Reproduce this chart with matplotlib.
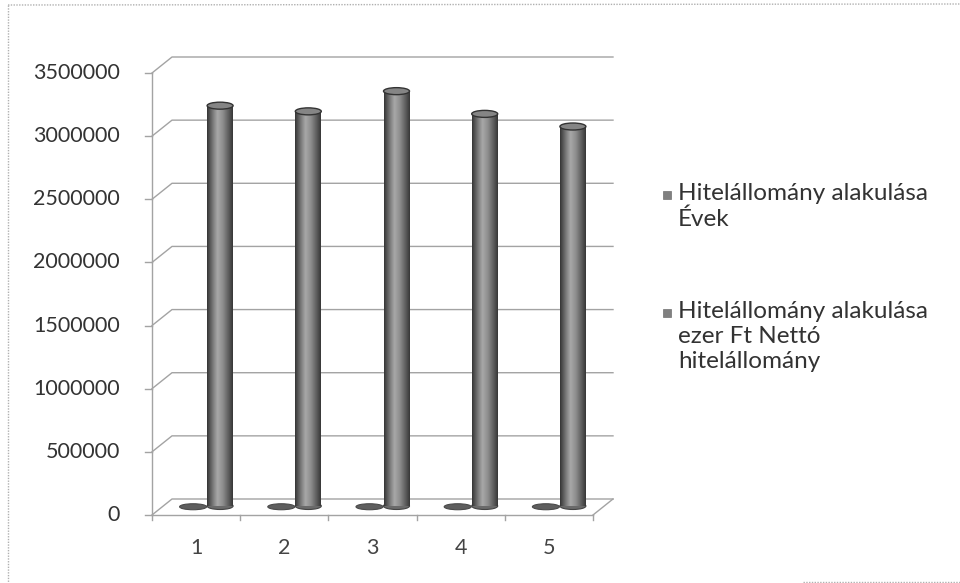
import numpy as np
import matplotlib
matplotlib.use("Agg")
import matplotlib.pyplot as plt
from matplotlib.patches import Ellipse, Rectangle
from matplotlib.colors import LinearSegmentedColormap

plt.rcParams["font.family"] = ["Lato", "DejaVu Sans"]

# data
categories = [1, 2, 3, 4, 5]
evek = [2005, 2006, 2007, 2008, 2009]
netto = [3170000, 3125000, 3285000, 3105000, 3005000]
y_ticks = [0, 500000, 1000000, 1500000, 2000000, 2500000, 3000000, 3500000]
legend_labels = [
    "Hitelállomány alakulása\nÉvek",
    "Hitelállomány alakulása\nezer Ft Nettó\nhitelállomány",
]

W, H = 960, 583
fig = plt.figure(figsize=(W / 100, H / 100), dpi=100)


def fx(px):
    return px / W


def fy(py):
    return 1 - py / H


# front plane of the 3d box
ax = fig.add_axes([fx(152), fy(515), fx(593) - fx(152), fy(73) - fy(515)])
ax.set_xlim(0.5, 5.5)
ax.set_ylim(0, y_ticks[-1])
ax.axis("off")

cat_px = (593 - 152) / len(categories)
val_px = (515 - 73) / y_ticks[-1]


def dx(px):
    return px / cat_px


def dy(px):
    return px / val_px


grid_col = "#a3a3a3"
text_col = "#333333"
fs = 15.5
wall = (dx(20), dy(16))
x0, x1 = 0.5, 5.5

# back wall gridlines with the diagonal run to the front axis
for v in y_ticks:
    ax.plot([x0, x0 + wall[0], x1 + wall[0]], [v, v + wall[1], v + wall[1]],
            color=grid_col, lw=1, clip_on=False, zorder=1)
    ax.plot([x0 - dx(7), x0], [v, v], color=grid_col, lw=1, clip_on=False, zorder=1)
    ax.text(x0 - dx(32), v, str(v), ha="right", va="center",
            fontsize=fs, color=text_col)

# axis line, floor edges and category ticks
ax.plot([x0, x0], [0, y_ticks[-1]], color=grid_col, lw=1, clip_on=False, zorder=1)
ax.plot([x0, x1], [0, 0], color=grid_col, lw=1, clip_on=False, zorder=1)
ax.plot([x1, x1 + wall[0]], [0, wall[1]], color=grid_col, lw=1, clip_on=False, zorder=1)
for b in np.arange(x0, x1 + 0.01, 1.0):
    ax.plot([b, b], [0, -dy(5)], color=grid_col, lw=1, clip_on=False, zorder=1)
for c in categories:
    ax.text(c, -dy(33), str(c), ha="center", va="center",
            fontsize=fs, color="#444444")

# front row: years, flat discs on the floor
for c, v in zip(categories, evek):
    ax.add_patch(Ellipse((c - dx(3), v + dy(8)), dx(27), dy(6),
                         facecolor="#5e5e5e", edgecolor="#4a4a4a", lw=0.8,
                         zorder=3, clip_on=False))

# back row: cylinders
shade = LinearSegmentedColormap.from_list(
    "cyl", ["#363636", "#727272", "#a8a8a8", "#909090", "#666666", "#383838"])
grad = np.linspace(0, 1, 64).reshape(1, -1)
w = dx(26)
base = dy(9)
eh = dy(7)
for c, v in zip(categories, netto):
    xc = c + dx(24)
    ax.add_patch(Ellipse((xc, base), w, eh, facecolor="#6a6a6a",
                         edgecolor="#444444", lw=0.8, zorder=4))
    body = Rectangle((xc - w / 2, base), w, v, facecolor="none",
                     edgecolor="none", zorder=5)
    ax.add_patch(body)
    im = ax.imshow(grad, cmap=shade, aspect="auto", zorder=5,
                   extent=[xc - w / 2, xc + w / 2, base, base + v])
    im.set_clip_path(body)
    ax.add_patch(Ellipse((xc, base + v), w, eh, facecolor="#858585",
                         edgecolor="#333333", lw=1, zorder=6))

ax.set_xlim(0.5, 5.5)
ax.set_ylim(0, y_ticks[-1])

# legend
legend_tops = [183, 301]
for top, label in zip(legend_tops, legend_labels):
    fig.add_artist(Rectangle((fx(663), fy(top + 16)), fx(8), 8 / H,
                             transform=fig.transFigure, facecolor="#808080",
                             edgecolor="#707070", lw=0.5))
    fig.text(fx(678), fy(top), label, ha="left", va="top", fontsize=17.5,
             color=text_col, linespacing=1.25)

# chart frame
frame_col = "#b0b0b0"
fig.add_artist(plt.Line2D([fx(8), fx(8)], [fy(5), fy(582)], color=frame_col,
                          lw=1, ls=(0, (1, 1)), transform=fig.transFigure))
fig.add_artist(plt.Line2D([fx(8), fx(960)], [fy(5), fy(4)], color=frame_col,
                          lw=1, ls=(0, (1, 1)), transform=fig.transFigure))
fig.add_artist(plt.Line2D([fx(803), fx(960)], [fy(582), fy(582)], color=frame_col,
                          lw=1, ls=(0, (1, 1)), transform=fig.transFigure))

fig.savefig("out.png", dpi=100, facecolor="white")
